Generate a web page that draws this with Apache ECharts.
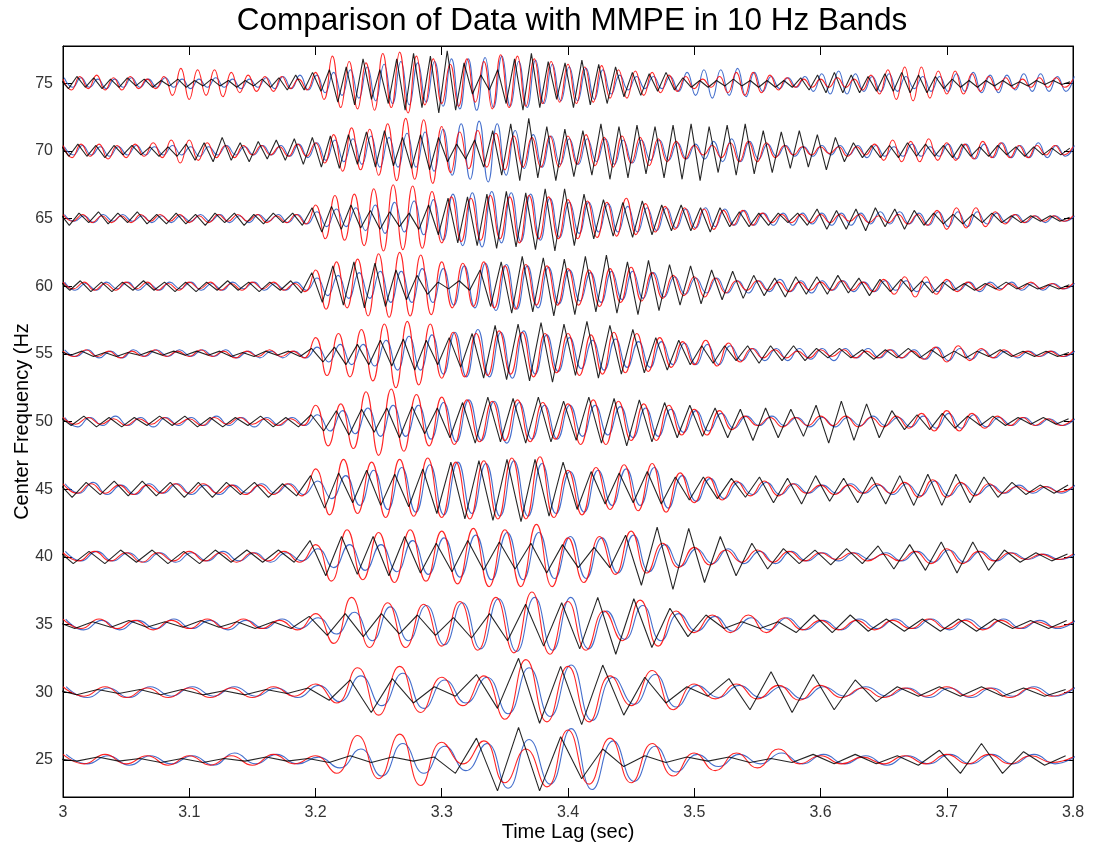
<!DOCTYPE html>
<html>
<head>
<meta charset="utf-8">
<script src="https://cdn.jsdelivr.net/npm/echarts@6/dist/echarts.min.js"></script>
<style>
html,body{margin:0;padding:0;background:#fff;}
#chart{width:1093px;height:847px;}
</style>
</head>
<body>
<div id="chart"></div>
<script>
// Band centres (Hz) and the oscillation rate used for the sampled extrema of each band
const bands = [25, 30, 35, 40, 45, 50, 55, 60, 65, 70, 75];
const stepHz = [30, 30, 35, 40, 45, 50, 55, 60, 65, 70, 75];
const yTicks = [25, 30, 35, 40, 45, 50, 55, 60, 65, 70, 75];
const xTicks = [3, 3.1, 3.2, 3.3, 3.4, 3.5, 3.6, 3.7, 3.8];

// Successive peak / trough values of each trace, in tenths of a unit from the band centre
const red75 = [3,-5,5,-4,6,-5,4,-5,5,-4,3,-4,5,-9,11,
 -12,10,-9,10,-10,8,-7,6,-6,5,-6,5,-4,3,-5,
 8,-12,20,-18,16,-19,15,-20,22,-18,23,-22,20,-16,18,
 -15,14,-17,18,-14,16,-19,21,-18,20,-17,18,-15,16,-14,
 14,-15,12,-14,13,-11,10,-11,9,-9,8,-7,6,-6,5,
 -4,3,-3,5,-7,8,-9,8,-7,6,-5,4,-3,3,-3,
 3,-3,4,-3,3,-5,6,-8,10,-12,12,-13,12,-11,9,
 -8,9,-8,7,-6,5,-5,4,-4,3,-3,4,-3,4,-3,
 3];
const blue75 = [4,-3,4,-3,3,-4,3,-3,4,-3,3,-3,4,-3,3,
 -4,3,-3,4,-3,3,-4,3,-3,4,-4,5,-4,6,-5,
 6,-7,8,-9,10,-11,12,-13,14,-15,16,-16,15,-14,16,
 -17,18,-19,18,-20,19,-18,20,-17,16,-18,17,-15,14,-13,
 12,-13,11,-12,10,-8,6,-5,5,-4,5,-4,5,-6,8,
 -9,10,-11,10,-9,11,-10,8,-6,5,-4,4,-3,5,-6,
 7,-8,9,-8,7,-6,5,-6,7,-6,5,-4,5,-6,5,
 -6,7,-6,8,-7,6,-7,6,-5,7,-6,7,-6,5,-6,
 5];
const black75 = [3,-4,5,-3,4,-4,3,-3,4,-2,3,-3,2,-2,3,
 -3,2,-2,3,-2,2,-3,2,-2,3,-3,4,-5,6,-5,
 8,-6,10,-14,12,-16,18,-12,10,-15,18,-20,22,-18,20,
 -22,24,-20,15,-8,6,-5,10,-15,18,-20,22,-18,16,-12,
 15,-18,17,-16,14,-15,12,-10,8,-9,7,-6,8,-5,4,
 -3,2,-3,2,-2,3,-2,2,-3,2,-3,2,-3,4,-5,
 6,-7,8,-7,6,-7,5,-6,7,-6,8,-7,6,-7,5,
 -4,3,-3,2,-3,2,-2,2,-2,1,-2,2,-1,2,-1,
 1];

const red70 = [4,-5,5,-4,5,-6,4,-5,5,-4,6,-5,8,-9,
 8,-7,6,-5,4,-5,4,-3,4,-3,3,-4,5,-4,
 6,-9,12,-15,17,-14,16,-18,20,-22,24,-21,23,-24,
 18,-16,14,-13,15,-12,13,-14,11,-12,10,-12,11,-12,
 11,-10,12,-11,10,-12,11,-9,10,-11,9,-8,7,-6,
 4,-3,4,-5,6,-8,7,-8,6,-5,4,-3,3,-3,
 3,-2,3,-4,3,-3,5,-7,8,-8,7,-8,9,-7,
 6,-7,5,-6,7,-5,6,-5,4,-5,4,-3,4,-3,
 3];
const blue70 = [3,-3,4,-3,3,-4,3,-3,4,-3,3,-3,4,-3,
 3,-4,3,-3,4,-3,3,-3,4,-3,4,-4,5,-5,
 6,-7,8,-8,9,-10,11,-12,10,-12,13,-12,14,-15,
 16,-18,20,-21,22,-23,20,-18,15,-13,12,-12,11,-10,
 9,-10,9,-8,9,-10,8,-9,8,-7,8,-7,6,-6,
 5,-6,7,-8,9,-8,7,-6,5,-4,4,-4,3,-4,
 4,-3,4,-3,4,-5,4,-4,3,-4,5,-4,3,-4,
 5,-6,5,-6,5,-5,6,-5,4,-5,6,-5,4,-4,
 4];
const black70 = [5,-4,5,-4,4,-5,4,-3,4,-3,3,-4,3,-4,
 5,-7,6,-8,10,-7,6,-8,7,-6,8,-7,9,-10,
 10,-12,11,-13,12,-10,14,-12,15,-11,10,-13,12,-14,
 10,-8,5,-6,8,-12,15,-18,20,-22,24,-20,18,-22,
 16,-19,15,-18,20,-21,18,-20,19,-17,18,-20,19,-21,
 20,-22,18,-16,19,-18,20,-17,15,-16,14,-13,15,-12,
 12,-14,10,-8,6,-5,4,-5,4,-5,6,-4,5,-4,
 4,-5,5,-4,3,-4,4,-3,3,-4,3,-3,2,-3,
 2];

const red65 = [3,-2,3,-3,2,-3,2,-3,3,-2,3,-2,3,
 -3,2,-3,3,-2,3,-2,3,-3,2,-3,3,-4,
 10,-15,17,-16,18,-20,22,-24,25,-23,24,-22,20,
 -18,16,-17,15,-16,17,-15,16,-18,17,-15,16,-15,
 14,-15,13,-14,12,-13,15,-12,11,-10,9,-8,8,
 -8,7,-8,6,-5,6,-5,4,-3,3,-3,3,-3,
 3,-3,3,-2,3,-3,2,-3,3,-4,3,-5,6,
 -8,8,-7,8,-6,5,-4,3,-3,2,-2,2,-2,
 2];
const blue65 = [3,-2,2,-3,3,-2,3,-2,2,-3,2,-3,2,
 -2,3,-2,3,-3,2,-3,3,-2,3,-3,3,-4,
 5,-6,7,-6,8,-9,10,-11,12,-10,13,-12,14,
 -16,18,-20,19,-21,20,-18,19,-17,18,-16,15,-14,
 12,-11,12,-10,11,-10,9,-10,8,-9,8,-7,7,
 -7,8,-6,7,-5,6,-5,4,-5,4,-5,4,-4,
 4,-5,4,-5,4,-4,5,-4,5,-4,4,-5,5,
 -6,5,-6,5,-4,4,-3,3,-3,2,-3,2,-2,
 2];
const black65 = [4,-5,4,-3,5,-4,4,-3,5,-4,3,-4,4,
 -4,3,-5,4,-3,4,-5,3,-4,4,-3,4,-5,
 8,-10,9,-8,10,-7,6,-8,5,-6,4,-8,10,
 -12,15,-18,16,-20,18,-22,20,-21,19,-23,22,-24,
 22,-20,18,-15,14,-13,12,-14,13,-12,10,-9,10,
 -9,8,-10,8,-6,5,-6,4,-5,4,-3,4,-5,
 7,-8,6,-8,7,-9,8,-6,7,-8,6,-5,4,
 -4,3,-4,3,-3,4,-3,2,-3,2,-2,2,-2,
 1];

const red60 = [3,-2,3,-3,2,-3,3,-2,3,-3,2,-3,
 3,-2,3,-3,2,-3,3,-2,3,-3,2,-4,
 12,-17,18,-16,20,-22,24,-23,25,-22,23,-21,
 18,-16,17,-15,18,-16,15,-17,16,-14,15,-14,
 13,-14,12,-15,13,-12,14,-11,10,-9,8,-7,
 7,-8,6,-5,4,-3,4,-3,3,-4,3,-3,
 3,-3,4,-3,3,-4,5,-6,7,-8,7,-6,
 5,-4,3,-3,2,-3,2,-2,3,-2,2,-2,
 2];
const blue60 = [3,-3,2,-3,3,-2,3,-3,2,-3,3,-2,
 3,-3,2,-3,3,-2,3,-3,2,-3,3,-3,
 6,-7,8,-9,10,-9,11,-12,11,-12,13,-12,
 13,-14,15,-16,17,-18,16,-17,15,-16,14,-13,
 12,-11,10,-12,11,-10,11,-9,10,-8,7,-6,
 6,-5,6,-5,4,-5,4,-4,5,-4,4,-5,
 4,-3,4,-4,3,-4,4,-3,4,-4,3,-4,
 4,-3,3,-4,3,-2,3,-3,2,-3,2,-2,
 2];
const black60 = [4,-3,4,-4,3,-4,3,-3,4,-3,3,-4,
 3,-4,3,-3,4,-3,3,-4,3,-3,4,-5,
 10,-12,15,-14,18,-16,17,-15,12,-10,8,-6,
 3,-2,4,-3,12,-15,18,-20,22,-19,21,-22,
 20,-21,22,-19,23,-20,18,-21,19,-18,16,-14,
 15,-13,12,-10,11,-9,8,-7,6,-8,7,-6,
 7,-6,8,-5,6,-7,5,-4,5,-4,4,-5,
 3,-3,2,-3,2,-2,3,-2,2,-2,1,-2,
 1];

const red55 = [2,-2,3,-2,2,-3,2,-2,3,-2,2,
 -2,3,-2,2,-3,2,-2,3,-2,2,-3,
 12,-16,15,-17,18,-20,22,-25,24,-23,22,
 -18,16,-17,15,-16,17,-15,16,-17,15,-14,
 15,-16,14,-15,16,-14,15,-13,12,-10,9,
 -8,10,-9,8,-6,4,-3,3,-3,2,-3,
 3,-2,3,-3,2,-3,3,-3,2,-4,5,
 -6,6,-5,4,-3,3,-2,2,-2,2,-2,
 2];
const blue55 = [3,-2,3,-3,2,-3,3,-2,3,-2,3,
 -2,3,-2,3,-3,2,-3,2,-3,2,-3,
 5,-6,7,-8,7,-9,10,-12,13,-12,14,
 -15,16,-17,18,-17,16,-18,17,-15,14,-13,
 12,-11,10,-12,11,-10,9,-10,9,-8,8,
 -8,7,-8,6,-5,4,-5,4,-5,4,-4,
 4,-5,4,-3,4,-3,3,-3,3,-4,5,
 -5,4,-4,3,-3,2,-3,2,-2,2,-2,
 2];
const black55 = [2,-1,2,-2,1,-2,1,-1,2,-1,2,
 -1,2,-1,2,-2,1,-2,2,-1,2,-2,
 4,-6,5,-8,7,-8,10,-9,11,-12,10,
 -8,12,-10,15,-18,21,-19,22,-20,23,-21,
 22,-16,24,-18,21,-15,18,-14,12,-12,10,
 -8,6,-7,6,-5,6,-7,6,-5,6,-5,
 4,-3,4,-3,3,-4,3,-3,4,-3,3,
 -3,2,-3,2,-2,3,-2,2,-2,2,-2,
 1];

const red50 = [3,-2,3,-2,2,-3,2,-2,3,-2,
 2,-3,3,-2,3,-2,2,-3,2,-3,
 12,-18,13,-20,22,-25,24,-22,20,-18,
 18,-17,16,-15,15,-14,16,-15,14,-13,
 13,-17,16,-17,15,-14,13,-14,12,-10,
 9,-10,8,-6,4,-3,3,-4,3,-3,
 4,-3,4,-4,3,-4,4,-5,6,-7,
 8,-7,6,-5,4,-3,3,-3,2,-3,
 2];
const blue50 = [3,-4,3,-3,4,-3,3,-4,3,-3,
 3,-3,4,-3,3,-4,3,-3,3,-3,
 5,-7,8,-9,10,-11,12,-11,12,-13,
 14,-15,16,-14,15,-16,14,-13,12,-13,
 12,-11,12,-10,11,-12,10,-11,9,-8,
 8,-7,6,-5,4,-3,4,-3,3,-4,
 3,-4,3,-3,4,-3,3,-4,4,-5,
 6,-5,5,-4,3,-3,3,-3,2,-3,
 2];
const black50 = [4,-3,4,-4,3,-4,3,-3,4,-3,
 4,-4,3,-4,3,-3,4,-4,3,-4,
 5,-7,8,-10,9,-8,10,-12,11,-9,
 10,-12,14,-16,18,-15,17,-16,18,-15,
 15,-14,18,-16,17,-18,16,-15,14,-12,
 12,-11,10,-12,9,-14,10,-12,9,-11,
 12,-16,15,-14,13,-12,8,-6,5,-6,
 6,-5,4,-3,4,-3,3,-2,3,-2,
 2];

const red45 = [4,-3,4,-3,3,-4,3,-3,4,
 -3,4,-3,3,-4,3,-4,4,-5,
 15,-19,22,-18,20,-21,22,-20,23,
 -21,20,-22,21,-22,23,-22,24,-21,
 14,-19,16,-15,18,-16,19,-17,12,
 -10,9,-8,6,-5,6,-5,4,-3,
 3,-4,3,-3,4,-3,5,-6,7,
 -6,5,-5,4,-3,2,-2,2,-2,
 2];
const blue45 = [4,-3,5,-4,3,-4,4,-3,4,
 -4,3,-4,3,-3,4,-3,4,-4,
 6,-7,10,-12,14,-15,16,-17,18,
 -19,20,-18,19,-20,21,-20,19,-18,
 13,-17,14,-12,15,-12,16,-14,10,
 -9,8,-7,5,-4,5,-4,4,-3,
 3,-3,4,-3,3,-4,4,-5,6,
 -5,4,-4,3,-3,3,-3,2,-3,
 3];
const black45 = [5,-6,5,-4,6,-5,6,-5,5,
 -6,5,-6,5,-4,5,-6,4,-5,
 10,-14,12,-10,14,-12,11,-13,15,
 -18,20,-22,21,-23,22,-24,22,-20,
 20,-15,13,-11,12,-10,13,-11,9,
 -8,9,-7,8,-6,9,-10,8,-11,
 10,-9,8,-10,9,-11,10,-12,11,
 -12,11,-10,9,-6,5,-4,3,-3,
 3];

const red40 = [3,-3,4,-3,3,-4,3,-3,
 4,-3,3,-4,3,-3,4,-4,
 9,-18,20,-17,18,-19,20,-18,
 19,-20,21,-22,20,-22,24,-22,
 14,-19,15,-13,19,-12,10,-8,
 7,-6,5,-4,5,-4,4,-3,
 3,-2,3,-3,2,-3,4,-5,
 6,-5,4,-3,3,-2,2,-2,
 2];
const blue40 = [4,-3,4,-3,3,-4,3,-4,
 3,-3,4,-3,3,-4,3,-3,
 6,-8,9,-10,9,-11,12,-13,
 14,-15,16,-17,18,-17,18,-16,
 15,-16,14,-12,16,-11,9,-7,
 6,-5,6,-5,4,-5,4,-3,
 3,-3,3,-2,3,-3,4,-4,
 5,-4,4,-3,3,-2,2,-2,
 2];
const black40 = [5,-5,4,-5,5,-4,5,-5,
 4,-5,5,-4,5,-4,5,-4,
 12,-14,15,-13,15,-14,15,-12,
 10,-11,12,-10,11,-9,10,-12,
 9,-8,7,-8,16,-21,22,-24,
 21,-19,15,-14,10,-9,6,-5,
 5,-6,6,-5,8,-9,9,-10,
 11,-12,11,-10,5,-4,3,-3,
 2];

const red35 = [4,-3,4,-3,3,-4,3,
 -3,4,-3,4,-3,3,-4,
 8,-14,20,-17,16,-17,15,
 -16,17,-19,20,-21,24,-22,
 17,-19,10,-12,18,-16,10,
 -6,7,-6,7,-6,5,-4,
 3,-4,3,-4,3,-3,4,
 -3,3,-4,3,-3,2,-2,
 2];
const blue35 = [4,-4,3,-4,3,-3,4,
 -3,3,-4,3,-3,4,-3,
 5,-7,9,-12,13,-12,14,
 -15,16,-18,19,-20,20,-19,
 20,-18,10,-11,14,-12,8,
 -5,6,-5,5,-4,5,-4,
 3,-4,4,-3,4,-3,4,
 -4,4,-3,4,-3,3,-3,
 3];
const black35 = [2,-3,2,-2,3,-2,2,
 -2,3,-2,2,-3,2,-3,
 6,-8,8,-9,8,-7,7,
 -8,5,-10,8,-12,15,-16,
 16,-18,20,-22,19,-17,12,
 -9,7,-3,2,-3,2,-6,
 7,-6,7,-5,4,-5,4,
 -5,4,-5,4,-3,3,-3,
 3];

const red30 = [4,-3,4,-4,3,-4,
 3,-4,3,-4,4,-3,
 6,-8,18,-17,19,-15,
 11,-10,12,-20,24,-22,
 19,-22,12,-10,16,-13,
 6,-5,6,-5,5,-6,
 5,-4,3,-4,3,-3,
 4,-3,3,-4,3,-3,
 3];
const blue30 = [4,-4,3,-4,4,-3,
 4,-3,4,-3,3,-4,
 5,-7,12,-10,14,-12,
 9,-8,11,-16,18,-18,
 20,-21,11,-9,13,-11,
 5,-4,5,-4,4,-5,
 4,-3,4,-3,3,-4,
 3,-4,3,-3,4,-3,
 4];
const black30 = [2,-2,2,-1,2,-2,
 2,-2,1,-2,2,-1,
 3,-6,9,-15,10,-8,
 4,-3,13,-12,25,-23,
 19,-24,20,-17,11,-8,
 4,-3,10,-13,15,-15,
 13,-13,9,-7,4,-3,
 4,-3,4,-3,3,-3,
 2];

const red25 = [4,-3,4,-3,3,-4,
 3,-4,3,-4,4,-3,
 3,-10,18,-14,19,-19,
 13,-3,14,-17,8,-20,
 22,-18,16,-17,12,-12,
 5,-8,5,-6,8,-3,
 3,-3,2,-3,3,-3,
 4,-3,4,-3,3,-2,
 2];
const blue25 = [4,-3,3,-4,3,-3,
 3,-4,5,-3,4,-3,
 2,-6,8,-12,12,-10,
 10,-8,12,-21,15,-18,
 23,-22,14,-16,10,-9,
 4,-5,4,-3,5,-3,
 4,-3,3,-4,3,-3,
 4,-3,4,-3,4,-3,
 3];
const black25 = [1,-1,2,-1,1,-2,
 1,-2,1,-1,2,-1,
 1,-2,3,-2,2,-1,
 2,-10,16,-23,24,-23,
 17,-14,8,-5,3,-2,
 2,-1,2,-2,1,-2,
 4,-3,4,-3,3,-4,
 7,-10,12,-10,6,-4,
 3];

const redTraces = [red25, red30, red35, red40, red45, red50, red55, red60, red65, red70, red75];
const blueTraces = [blue25, blue30, blue35, blue40, blue45, blue50, blue55, blue60, blue65, blue70, blue75];
const blackTraces = [black25, black30, black35, black40, black45, black50, black55, black60, black65, black70, black75];

const FONT = '"Liberation Sans", Arial, Helvetica, sans-serif';
const T0 = 3.0;

function toPoints(values, bandIdx, lag) {
  const dt = 1 / (2 * stepHz[bandIdx]);
  const centre = bands[bandIdx];
  return values.map((v, k) => [T0 + (k + lag) * dt, centre + v / 10]);
}

const series = [];
const styles = [
  { traces: blueTraces, color: 'rgba(35,85,195,0.85)', smooth: 0.5, lag: 0.15, z: 2 },
  { traces: redTraces, color: 'rgba(255,0,0,0.85)', smooth: 0.5, lag: 0, z: 3 },
  { traces: blackTraces, color: 'rgba(0,0,0,0.85)', smooth: false, lag: -0.35, z: 4 }
];
styles.forEach(st => {
  st.traces.forEach((vals, i) => {
    series.push({
      type: 'line',
      data: toPoints(vals, i, st.lag),
      showSymbol: false,
      symbol: 'none',
      smooth: st.smooth,
      clip: true,
      z: st.z,
      lineStyle: { color: st.color, width: 1.1 },
      emphasis: { disabled: true },
      silent: true
    });
  });
});

const chart = echarts.init(document.getElementById('chart'), null, { renderer: 'canvas' });
const axisCommon = {
  axisLine: { show: true, lineStyle: { color: '#000', width: 1 } },
  axisTick: { show: true, inside: true, length: 9, lineStyle: { color: '#000' } },
  splitLine: { show: false }
};
chart.setOption({
  animation: false,
  backgroundColor: '#fff',
  title: {
    text: 'Comparison of Data with MMPE in 10 Hz Bands',
    left: 567,
    textAlign: 'center',
    top: 0,
    textStyle: { fontFamily: FONT, fontSize: 31.5, fontWeight: 'normal', color: '#000' }
  },
  grid: { left: 63, right: 20, top: 46, bottom: 50, containLabel: false, outerBoundsMode: 'none',
          show: true, borderColor: '#000', borderWidth: 1 },
  xAxis: [
    Object.assign({}, axisCommon, {
      type: 'value', position: 'bottom', min: 3, max: 3.8, interval: 0.1,
      name: 'Time Lag (sec)', nameLocation: 'middle', nameGap: 25, nameMoveOverlap: false,
      nameTextStyle: { fontFamily: FONT, fontSize: 20, color: '#000' },
      axisLabel: { margin: 8, fontFamily: FONT, fontSize: 16, color: '#333',
                   formatter: v => String(Math.round(v * 10) / 10) }
    }),
    Object.assign({}, axisCommon, {
      type: 'value', position: 'top', min: 3, max: 3.8, interval: 0.1,
      axisLabel: { show: false }
    })
  ],
  yAxis: [
    Object.assign({}, axisCommon, {
      type: 'value', position: 'left', min: 22.25, max: 77.75,
      name: 'Center Frequency (Hz', nameLocation: 'middle', nameGap: 31, nameRotate: 90, nameMoveOverlap: false,
      nameTextStyle: { fontFamily: FONT, fontSize: 20, color: '#000' },
      axisTick: { show: true, inside: true, length: 9, lineStyle: { color: '#000' }, customValues: yTicks },
      axisLabel: { margin: 10, fontFamily: FONT, fontSize: 16, color: '#333', customValues: yTicks }
    }),
    Object.assign({}, axisCommon, {
      type: 'value', position: 'right', min: 22.25, max: 77.75,
      axisTick: { show: true, inside: true, length: 9, lineStyle: { color: '#000' }, customValues: yTicks },
      axisLabel: { show: false, customValues: yTicks }
    })
  ],
  series: series
});
</script>
</body>
</html>
